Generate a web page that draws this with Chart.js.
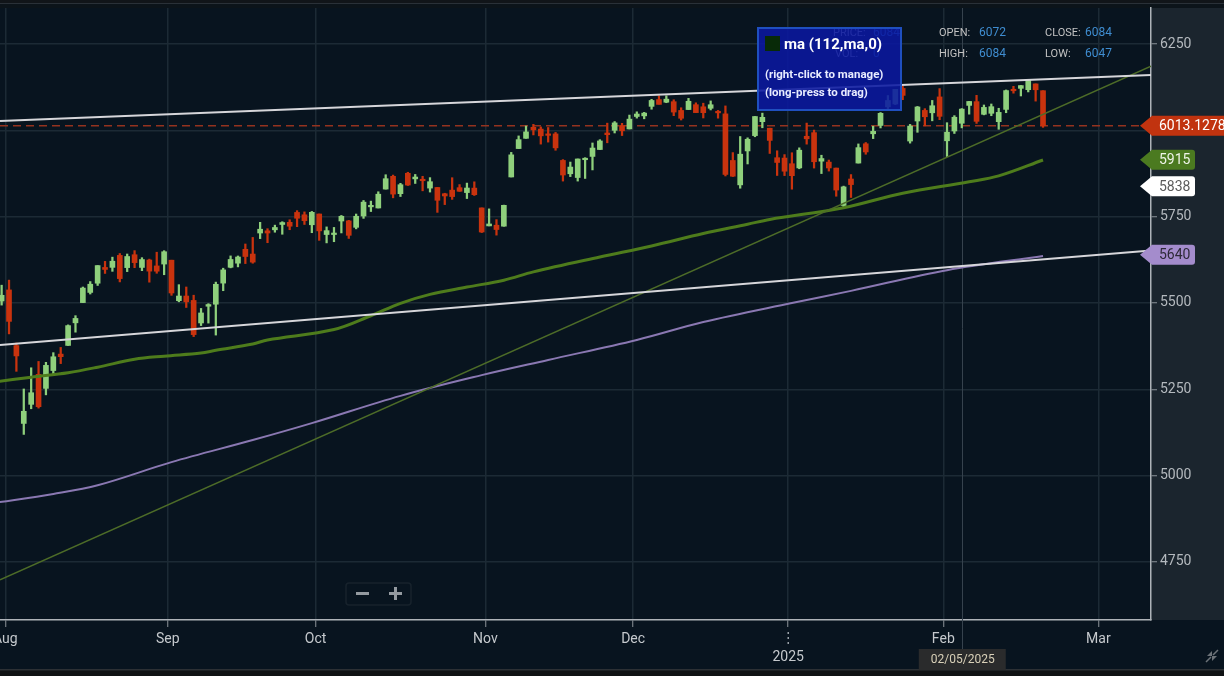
<!DOCTYPE html>
<html><head><meta charset="utf-8">
<script src="https://cdn.jsdelivr.net/npm/chart.js@4.4.1/dist/chart.umd.min.js"></script>
<style>
html,body{margin:0;padding:0;background:#08141f;overflow:hidden;}
canvas{display:block;}
</style></head><body>
<canvas id="c" width="1224" height="676"></canvas>
<script>
// ---------------- DATA ----------------
const dates = [
'2024-07-31',
'2024-08-01','2024-08-02','2024-08-05','2024-08-06','2024-08-07','2024-08-08','2024-08-09','2024-08-12','2024-08-13','2024-08-14','2024-08-15','2024-08-16','2024-08-19','2024-08-20','2024-08-21','2024-08-22','2024-08-23','2024-08-26','2024-08-27','2024-08-28','2024-08-29','2024-08-30',
'2024-09-03','2024-09-04','2024-09-05','2024-09-06','2024-09-09','2024-09-10','2024-09-11','2024-09-12','2024-09-13','2024-09-16','2024-09-17','2024-09-18','2024-09-19','2024-09-20','2024-09-23','2024-09-24','2024-09-25','2024-09-26','2024-09-27','2024-09-30',
'2024-10-01','2024-10-02','2024-10-03','2024-10-04','2024-10-07','2024-10-08','2024-10-09','2024-10-10','2024-10-11','2024-10-14','2024-10-15','2024-10-16','2024-10-17','2024-10-18','2024-10-21','2024-10-22','2024-10-23','2024-10-24','2024-10-25','2024-10-28','2024-10-29','2024-10-30','2024-10-31',
'2024-11-01','2024-11-04','2024-11-05','2024-11-06','2024-11-07','2024-11-08','2024-11-11','2024-11-12','2024-11-13','2024-11-14','2024-11-15','2024-11-18','2024-11-19','2024-11-20','2024-11-21','2024-11-22','2024-11-25','2024-11-26','2024-11-27','2024-11-29',
'2024-12-02','2024-12-03','2024-12-04','2024-12-05','2024-12-06','2024-12-09','2024-12-10','2024-12-11','2024-12-12','2024-12-13','2024-12-16','2024-12-17','2024-12-18','2024-12-19','2024-12-20','2024-12-23','2024-12-24','2024-12-26','2024-12-27','2024-12-30','2024-12-31',
'2025-01-02','2025-01-03','2025-01-06','2025-01-07','2025-01-08','2025-01-09','2025-01-10','2025-01-13','2025-01-14','2025-01-15','2025-01-16','2025-01-17','2025-01-21','2025-01-22','2025-01-23','2025-01-24','2025-01-27','2025-01-28','2025-01-29','2025-01-30','2025-01-31',
'2025-02-03','2025-02-04','2025-02-05','2025-02-06','2025-02-07','2025-02-10','2025-02-11','2025-02-12','2025-02-13','2025-02-14','2025-02-18','2025-02-19','2025-02-20','2025-02-21'
];
const opens = [
5505.6,
5537.8,5376.6,5151.1,5206.4,5293.1,5252.6,5304.3,5351.9,5377.0,5442.5,5501.1,5530.5,5557.2,5602.9,5603.1,5637.8,5602.4,5639.7,5602.9,5624.5,5607.3,5612.7,
5623.9,5506.7,5520.1,5507.3,5442.1,5490.5,5496.4,5557.5,5603.3,5615.2,5655.5,5641.7,5702.6,5709.0,5711.9,5727.3,5733.7,5762.2,5755.4,5726.5,
5757.7,5698.2,5698.2,5737.4,5737.8,5719.1,5751.8,5778.4,5775.1,5829.8,5866.7,5816.6,5875.6,5859.4,5857.8,5832.7,5834.5,5816.4,5826.8,5833.9,5819.7,5832.7,5775.3,
5723.2,5725.2,5722.4,5864.9,5947.2,5976.8,6008.9,6003.6,5985.8,5989.7,5912.8,5874.2,5863.3,5914.9,5924.4,5944.4,5992.3,6000.0,6014.1,6004.0,
6040.1,6041.9,6069.4,6089.0,6081.4,6083.0,6057.6,6060.2,6074.3,6068.2,6063.8,6052.6,6047.7,5912.7,5842.0,5940.3,5984.7,6025.0,6006.2,5920.7,5919.7,
5903.3,5891.1,5982.8,5993.3,5910.7,5908.0,5890.7,5782.4,5859.0,5905.2,5961.1,5990.0,6014.1,6068.0,6076.3,6121.4,5969.0,6027.0,6057.7,6050.8,6096.8,
5969.7,5998.1,6020.5,6072.2,6083.1,6046.4,6049.3,6025.1,6060.6,6115.5,6121.6,6117.8,6134.5,6114.8
];
const highs = [
5551.5,
5566.2,5383.9,5250.9,5312.3,5330.6,5328.0,5356.1,5371.2,5436.5,5463.2,5546.2,5562.0,5608.3,5620.5,5632.7,5643.2,5641.8,5651.6,5631.2,5627.0,5647.0,5651.4,
5623.9,5553.0,5546.3,5522.5,5484.2,5497.9,5560.4,5600.7,5636.3,5636.1,5670.8,5689.8,5733.6,5715.1,5725.4,5735.3,5741.0,5767.4,5763.8,5765.1,
5757.7,5720.3,5718.8,5753.4,5739.3,5757.6,5796.8,5795.0,5822.1,5871.4,5870.4,5846.5,5878.5,5872.2,5866.9,5863.0,5834.9,5817.8,5862.8,5842.9,5847.2,5850.9,5775.3,
5772.5,5741.4,5783.4,5936.1,5983.8,6012.5,6017.3,6009.9,6008.2,5993.9,5915.2,5908.1,5917.1,5920.7,5963.4,5972.9,6020.8,6025.4,6020.2,6044.2,
6053.6,6052.1,6089.8,6100.0,6100.0,6088.5,6065.4,6092.6,6079.7,6078.6,6085.2,6057.7,6070.7,5935.5,5982.1,5978.3,6040.1,6049.8,6006.2,5940.8,5929.7,
5935.1,5949.3,6021.0,6000.7,5927.9,5914.0,5890.7,5838.4,5871.9,5960.6,5964.7,6012.0,6051.5,6100.8,6118.7,6128.2,6017.2,6069.1,6062.8,6086.6,6120.9,
6022.1,6042.5,6062.9,6084.0,6101.3,6073.4,6076.3,6063.9,6116.9,6127.5,6129.6,6147.4,6134.5,6114.8
];
const lows = [
5493.8,
5410.4,5302.0,5119.3,5193.6,5195.5,5233.9,5293.5,5324.4,5377.0,5415.4,5501.1,5525.9,5550.7,5585.5,5591.6,5561.0,5590.8,5602.3,5593.5,5560.2,5586.0,5581.8,
5522.1,5503.4,5486.9,5402.6,5434.5,5441.7,5407.0,5535.5,5601.7,5604.5,5614.1,5615.1,5686.4,5674.5,5704.9,5699.0,5712.1,5721.0,5727.3,5703.5,
5681.3,5674.0,5677.4,5702.8,5686.9,5714.6,5745.0,5764.8,5775.1,5829.8,5804.5,5808.3,5840.3,5846.1,5824.8,5821.2,5762.4,5784.9,5800.0,5823.1,5802.4,5811.3,5703.9,
5723.2,5696.5,5722.1,5864.9,5947.2,5976.8,5986.7,5960.1,5965.9,5942.3,5853.0,5866.0,5853.0,5860.6,5885.3,5944.4,5963.9,5992.3,5984.9,6004.0,
6035.3,6033.4,6061.1,6076.0,6080.0,6042.5,6029.9,6060.2,6051.3,6035.8,6059.1,6035.2,5867.8,5866.1,5832.3,5902.6,5981.4,6007.4,5933.0,5869.2,5868.9,
5829.5,5888.7,5960.0,5890.7,5874.8,5882.0,5809.1,5773.3,5805.5,5905.2,5930.7,5976.0,6006.9,6062.9,6074.7,6088.7,5962.9,5994.3,6013.0,6027.5,6030.9,
5923.9,5990.9,6007.1,6046.8,6020.0,6044.8,6042.3,6003.0,6051.0,6107.6,6099.5,6111.2,6084.6,6008.6
];
const closes = [
5522.3,
5446.7,5346.6,5186.3,5240.0,5199.5,5319.3,5344.2,5344.4,5434.4,5455.2,5543.2,5554.3,5608.3,5597.1,5620.9,5570.6,5634.6,5616.8,5625.8,5592.2,5592.0,5648.4,
5528.9,5520.1,5503.4,5408.4,5471.1,5495.5,5554.1,5595.8,5626.0,5633.1,5634.6,5618.3,5713.6,5702.6,5718.6,5732.9,5722.3,5745.4,5738.2,5762.5,
5708.8,5709.5,5699.9,5751.1,5695.9,5751.1,5792.0,5780.1,5815.0,5859.9,5815.3,5842.5,5841.5,5864.7,5854.0,5851.2,5797.4,5809.9,5808.1,5823.5,5832.9,5813.7,5705.5,
5728.8,5712.7,5782.8,5929.0,5973.1,5995.5,6001.4,5984.0,5985.4,5949.2,5870.6,5893.6,5917.0,5917.1,5948.7,5969.3,5987.4,6021.6,5998.7,6032.4,
6047.2,6049.9,6086.5,6075.1,6090.3,6052.9,6034.9,6084.2,6051.3,6051.1,6074.1,6050.6,5872.2,5867.1,5930.9,5974.1,6040.0,6037.6,5970.8,5906.9,5881.6,
5868.6,5942.5,5975.4,5909.0,5918.3,5891.0,5827.0,5836.2,5842.9,5949.9,5937.3,5997.0,6049.2,6086.4,6118.7,6101.2,6012.3,6067.7,6039.3,6071.2,6040.5,
5994.6,6037.9,6061.5,6083.6,6026.0,6066.4,6068.5,6052.0,6115.1,6114.6,6129.6,6144.2,6117.5,6013.1
];

// axis ticks
const monthTickIdx    = [0.5, 22.5, 42.5, 65.5, 85.5, 106.5, 127.5, 148.5];
const monthTickLabels = ['Aug','Sep','Oct','Nov','Dec','','Feb','Mar'];
const yearTickIdx = 106.5;
const yearLabel = '2025';
const yTickValues = [4750, 5000, 5250, 5500, 5750, 6000, 6250];

// moving averages [candle index, value]
const maGreen = [[-1,5271],[4,5285],[9,5298],[13,5314],[18,5337],[22,5346],[27,5355],[29,5363],[34,5381],[36,5393],[45,5423],[50,5463],[54,5499],[58,5525],[63,5546],[68,5566],[72,5590],[81,5633],[88,5665],[95,5701],[101,5728],[104,5742],[114,5776],[122,5818],[131,5851],[135,5868],[141,5914]];
const maPurple = [[-1,4921],[7,4947],[13,4972],[23,5039],[34,5103],[42,5152],[54,5231],[65,5291],[74,5335],[86,5393],[95,5445],[107,5500],[115,5535],[128,5595],[141,5636]];

// trendlines [candle index, value]
const trendUpper = [[-0.22,6027],[155.62,6160]];
const trendLower = [[-0.22,5378],[155.62,5652]];
const trendRise  = [[-0.22,4698],[155.62,6186]];

const lastPrice = 6013.1278;
const priceTags = [
  {value: 6013.1278, text: '6013.1278'},
  {value: 5915, text: '5915'},
  {value: 5838, text: '5838'},
  {value: 5640, text: '5640'}
];
const hoverDate = '2025-02-06';
const crossDateLabel = '02/05/2025';
const crossIdx = dates.indexOf('2025-02-05');
const maLabel = 'ma (112,ma,0)';

// ---------------- STYLE ----------------
const UP = '#8fd07c', DOWN = '#c9330e';
const FONT = 'Roboto, "Noto Sans", sans-serif';
const tagStyles = [
  {fill:'#c1330f', color:'#ffffff', extend:true},
  {fill:'#4b7a20', color:'#eef4e8', extend:false},
  {fill:'#ffffff', color:'#5a5a5a', extend:false},
  {fill:'#a48ccc', color:'#2e2a38', extend:false}
];

const idx = dates.map((d,i)=>i);
const colors = idx.map(i => closes[i] >= opens[i] ? UP : DOWN);
const toXY = arr => arr.map(p => ({x:p[0], y:p[1]}));

const decor = {
  id:'decor',
  beforeDraw(chart){
    const {ctx, chartArea:a, width, height} = chart;
    ctx.save();
    ctx.fillStyle = '#08141f'; ctx.fillRect(0,0,width,height);
    ctx.fillStyle = '#1b252e'; ctx.fillRect(a.right, a.top, width-a.right, a.bottom-a.top);
    ctx.fillStyle = '#0c141a'; ctx.fillRect(0,0,width,a.top);
    ctx.fillStyle = '#111519'; ctx.fillRect(0,0,width,3);
    ctx.fillStyle = '#2a3138'; ctx.fillRect(0,3,width,1);
    ctx.fillStyle = '#101214'; ctx.fillRect(0,670,width,height-670);
    ctx.fillStyle = '#2c3034'; ctx.fillRect(0,669,width,1.5);
    ctx.restore();
  },
  beforeDatasetsDraw(chart){
    const {ctx, chartArea:a, scales} = chart;
    const x = Math.round(scales.x.getPixelForValue(crossIdx)) + 0.5;
    ctx.save();
    ctx.strokeStyle = '#36424d'; ctx.lineWidth = 1;
    ctx.beginPath(); ctx.moveTo(x, a.top); ctx.lineTo(x, 649); ctx.stroke();
    ctx.restore();
  },
  afterDraw(chart){
    const {ctx, chartArea:a, scales} = chart;
    const ys = scales.y, xs = scales.x;
    ctx.save();
    // price tags
    priceTags.forEach((t,k)=>{
      const st = tagStyles[k];
      const y = ys.getPixelForValue(t.value);
      const x0 = a.right - 11, x1 = a.right + 1, x2 = st.extend ? 1240 : 1195, h = 10, r = 3;
      ctx.fillStyle = st.fill;
      ctx.beginPath();
      ctx.moveTo(x0, y);
      ctx.lineTo(x1, y-h);
      ctx.lineTo(x2-r, y-h);
      ctx.quadraticCurveTo(x2, y-h, x2, y-h+r);
      ctx.lineTo(x2, y+h-r);
      ctx.quadraticCurveTo(x2, y+h, x2-r, y+h);
      ctx.lineTo(x1, y+h);
      ctx.closePath(); ctx.fill();
      ctx.fillStyle = st.color;
      ctx.font = '14px ' + FONT;
      ctx.textAlign = 'left'; ctx.textBaseline = 'middle';
      ctx.fillText(t.text, 1159, y+1);
    });
    // year label and dotted marker
    const yx = xs.getPixelForValue(yearTickIdx);
    ctx.fillStyle = '#9aa1a8';
    [632, 637, 642].forEach(yy => ctx.fillRect(Math.round(yx)-0.5, yy, 1.5, 2));
    ctx.fillStyle = '#c5c9cd';
    ctx.font = '14px ' + FONT; ctx.textAlign = 'center'; ctx.textBaseline = 'middle';
    ctx.fillText(yearLabel, yx, 657);
    // crosshair date label
    const cx = xs.getPixelForValue(crossIdx);
    ctx.fillStyle = '#2a2b2c';
    ctx.fillRect(cx-43, 649, 87, 21);
    ctx.fillStyle = '#d8d0b8';
    ctx.font = '12px ' + FONT;
    ctx.fillText(crossDateLabel, cx+1, 660);
    // OHLC readout
    const h = dates.indexOf(hoverDate);
    ctx.textAlign = 'left';
    ctx.font = '11px ' + FONT; ctx.fillStyle = '#c2c2c2';
    ctx.fillText('PRICE:', 833, 33); ctx.fillText('VOL:', 835, 54);
    ctx.fillText('OPEN:', 939, 33); ctx.fillText('HIGH:', 939, 54);
    ctx.fillText('CLOSE:', 1045, 33); ctx.fillText('LOW:', 1045, 54);
    ctx.font = '12px ' + FONT; ctx.fillStyle = '#3f8dd0';
    ctx.fillText(String(Math.round(closes[h])), 873, 33); ctx.fillText('0', 873, 54);
    ctx.fillText(String(Math.round(opens[h])), 979, 33); ctx.fillText(String(Math.round(highs[h])), 979, 54);
    ctx.fillText(String(Math.round(closes[h])), 1085, 33); ctx.fillText(String(Math.round(lows[h])), 1085, 54);
    // MA info box
    ctx.fillStyle = 'rgba(10,24,160,0.88)';
    ctx.fillRect(757, 27, 145, 84);
    ctx.strokeStyle = '#1f4fbf'; ctx.lineWidth = 2;
    ctx.strokeRect(758, 28, 143, 82);
    ctx.fillStyle = '#082a08'; ctx.fillRect(765, 36, 15, 15);
    ctx.fillStyle = '#ffffff';
    ctx.font = 'bold 15px ' + FONT;
    ctx.fillText(maLabel, 784, 45);
    ctx.font = 'bold 11.5px ' + FONT;
    ctx.fillStyle = '#e8ecff';
    ctx.fillText('(right-click to manage)', 765, 75);
    ctx.fillText('(long-press to drag)', 765, 93);
    // zoom control
    ctx.strokeStyle = '#17222c'; ctx.lineWidth = 1.5;
    ctx.beginPath(); ctx.roundRect(346, 583, 65, 22, 3); ctx.stroke();
    ctx.fillStyle = '#949aa0';
    ctx.fillRect(356, 592, 13, 3);
    ctx.fillRect(389, 592, 13, 3);
    ctx.fillRect(394, 587, 3, 13);
    // compress icon
    ctx.strokeStyle = '#6c7278'; ctx.lineWidth = 1.5;
    ctx.beginPath();
    ctx.moveTo(1206, 662); ctx.lineTo(1211, 657);
    ctx.moveTo(1218, 650); ctx.lineTo(1213, 655);
    ctx.stroke();
    ctx.fillStyle = '#6c7278';
    ctx.beginPath(); ctx.moveTo(1212,656); ctx.lineTo(1212,651); ctx.lineTo(1207,656); ctx.closePath(); ctx.fill();
    ctx.beginPath(); ctx.moveTo(1212,656); ctx.lineTo(1217,656); ctx.lineTo(1212,661); ctx.closePath(); ctx.fill();
    ctx.restore();
  }
};

const lineDs = (data, color, width, order, extra) => Object.assign({
  type:'line', data, borderColor: color, borderWidth: width, pointRadius: 0,
  fill:false, order, tension: 0
}, extra || {});

const cfg = {
  type:'bar',
  data:{
    datasets:[
      lineDs(toXY(trendUpper), '#d6d6da', 2, 1),
      lineDs(toXY(trendLower), '#d6d6da', 2, 2),
      lineDs(toXY(trendRise), '#4d6c28', 1.5, 3),
      lineDs(toXY(maGreen), '#4e7c1c', 3, 4, {tension:0.35}),
      lineDs(toXY(maPurple), '#8a78b2', 2, 5, {tension:0.35}),
      {
        type:'bar', order: 10, grouped:false,
        data: idx.map(i => ({x:i, y:[opens[i], closes[i]]})),
        backgroundColor: colors, borderWidth:0, barThickness:5, minBarLength:1.5
      },
      {
        type:'bar', order: 11, grouped:false,
        data: idx.map(i => ({x:i, y:[lows[i], highs[i]]})),
        backgroundColor: colors, borderWidth:0, barThickness:1.6
      },
      lineDs([{x:-0.22, y:lastPrice},{x:155.62, y:lastPrice}], '#94321f', 1.5, 12, {borderDash:[8,5]})
    ]
  },
  options:{
    responsive:false, animation:false, devicePixelRatio:1, events:[],
    layout:{ autoPadding:false, padding:{top:8, left:0, right:0, bottom:0} },
    plugins:{ legend:{display:false}, tooltip:{enabled:false} },
    scales:{
      x:{
        type:'linear', min:-0.22, max:155.62, offset:false,
        afterBuildTicks: s => { s.ticks = monthTickIdx.map(v => ({value:v})); },
        afterFit: s => { s.height = 56; s.paddingLeft = 0; s.paddingRight = 0; },
        ticks:{
          autoSkip:false, maxRotation:0, minRotation:0, padding:4,
          color:'#c5c9cd', font:{family:FONT, size:14},
          callback: (v) => { const k = monthTickIdx.indexOf(v); return k >= 0 ? monthTickLabels[k] : ''; }
        },
        grid:{ offset:false, color:'#1c2a35', lineWidth:1.5, tickLength:7, tickColor:'#8c939a', tickWidth:1 },
        border:{ display:true, color:'#aeb3b8', width:1.5 }
      },
      y:{
        type:'linear', position:'right', min:4581.8, max:6354.3,
        afterBuildTicks: s => { s.ticks = yTickValues.map(v => ({value:v})); },
        afterFit: s => { s.width = 73; s.paddingTop = 0; s.paddingBottom = 0; },
        ticks:{ padding:3, color:'#b4b9be', font:{family:FONT, size:14}, callback: v => String(v) },
        grid:{ color:'#1c2a35', lineWidth:1.5, tickLength:6, tickColor:'#8c939a', tickWidth:1 },
        border:{ display:true, color:'#aeb3b8', width:1.5 }
      }
    }
  },
  plugins:[decor]
};
new Chart(document.getElementById('c'), cfg);
</script>
</body></html>
